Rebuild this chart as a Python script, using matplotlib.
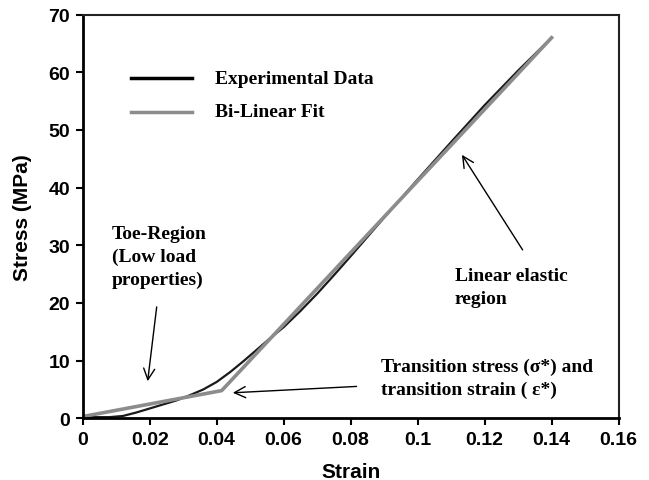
import numpy as np
import matplotlib.pyplot as plt

# -----------------------------
# Data
# -----------------------------
exp_strain = [0.0, 0.004, 0.008, 0.012, 0.016, 0.02, 0.024, 0.028, 0.032, 0.036,
              0.04, 0.044, 0.048, 0.052, 0.056, 0.06, 0.065, 0.07, 0.075, 0.08,
              0.09, 0.1, 0.11, 0.12, 0.13, 0.14]
exp_stress = [0.3, 0.2, 0.2, 0.4, 1.0, 1.7, 2.4, 3.1, 4.0, 5.0,
              6.3, 8.0, 9.9, 11.9, 13.9, 15.8, 18.6, 21.6, 24.8, 28.1,
              34.8, 41.4, 47.9, 54.3, 60.3, 66.0]

fit_strain = [0.0, 0.0415, 0.14]
fit_stress = [0.3, 4.8, 66.0]

# -----------------------------
# Plot
# -----------------------------
fig = plt.figure(figsize=(6.49, 4.81), dpi=100)
ax = fig.add_axes([0.1274, 0.1283, 0.8257, 0.8391])

ax.plot(exp_strain, exp_stress, color="#1a1a1a", lw=1.6)
ax.plot(fit_strain, fit_stress, color="#8c8c8c", lw=2.6)

ax.set_xlim(0, 0.16)
ax.set_ylim(0, 70)
ax.set_xticks(np.arange(0, 0.161, 0.02))
ax.set_xticklabels(["0", "0.02", "0.04", "0.06", "0.08", "0.1", "0.12", "0.14", "0.16"])
ax.set_yticks(range(0, 71, 10))

sans = dict(family="Liberation Sans", weight="bold", size=14)
for lab in ax.get_xticklabels() + ax.get_yticklabels():
    lab.set_fontfamily("Liberation Sans")
    lab.set_fontweight("bold")
    lab.set_fontsize(14)

ax.set_xlabel("Strain", fontdict=dict(sans, size=15), labelpad=10)
ax.set_ylabel("Stress (MPa)", fontdict=dict(sans, size=15), labelpad=12)

ax.tick_params(direction="out", length=5, width=1.5, pad=4, top=False, right=False)
for side in ["left", "bottom"]:
    ax.spines[side].set_linewidth(2)
for side in ["top", "right"]:
    ax.spines[side].set_linewidth(1.5)
    ax.spines[side].set_color("#222222")

# legend drawn by hand like the original
serif = dict(family="Liberation Serif", weight="bold", size=14)
ax.plot([0.01445, 0.0325], [59.0, 59.0], color="black", lw=2.5)
ax.plot([0.01445, 0.0325], [53.2, 53.2], color="#8c8c8c", lw=2.5)
ax.text(0.0395, 59.0, "Experimental Data", va="center", **serif)
ax.text(0.0395, 53.2, "Bi-Linear Fit", va="center", **serif)

# annotations
arrow = dict(arrowstyle="->", color="black", lw=1, mutation_scale=20)
ax.text(0.0087, 28.1, "Toe-Region\n(Low load\nproperties)", va="center",
        linespacing=1.42, **serif)
ax.annotate("", xy=(0.0193, 5.95), xytext=(0.0222, 19.8), arrowprops=arrow)

ax.text(0.1111, 22.8, "Linear elastic\nregion", va="center", linespacing=1.42, **serif)
ax.annotate("", xy=(0.1128, 46.1), xytext=(0.1318, 28.8), arrowprops=arrow)

ax.text(0.089, 7.0, "Transition stress (σ*) and\ntransition strain ( ε*)",
        va="center", linespacing=1.42, **serif)
ax.annotate("", xy=(0.044, 4.4), xytext=(0.0826, 5.55), arrowprops=arrow)

fig.savefig("out.png", dpi=100)
